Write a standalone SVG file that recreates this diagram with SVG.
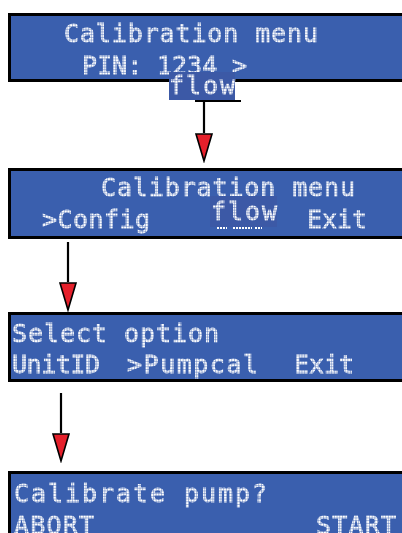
<svg xmlns="http://www.w3.org/2000/svg" width="402" height="533" viewBox="0 0 402 533">
  <style>
    .lcd { fill: #3a5fae; stroke: #000; stroke-width: 3; }
    .tag { fill: #3c59a6; }
    .txt { fill: #fff; stroke: #fff; stroke-width: 0.8; font-family: "DejaVu Sans Mono", "Liberation Mono", monospace; font-size: 25px; }
    .link { stroke: #000; stroke-width: 2.2; fill: none; }
    .dash { stroke: #fff; stroke-width: 2; stroke-dasharray: 2 1; }
  </style>
  <defs>
    <marker id="head" viewBox="0 0 30 18" refX="0" refY="9" markerWidth="30" markerHeight="18" markerUnits="userSpaceOnUse" orient="auto">
      <path d="M1,1 L28,9 L1,17 Z" fill="#e5202b" stroke="#000" stroke-width="1.6" stroke-linejoin="miter"/>
    </marker>
    <!-- pixel grid of the LCD character cells -->
    <pattern id="pixels" width="2.7" height="2.7" patternUnits="userSpaceOnUse">
      <rect width="2.3" height="2.3" fill="#fff"/>
    </pattern>
    <mask id="lcd-dots" maskUnits="userSpaceOnUse" x="0" y="0" width="402" height="533">
      <rect width="402" height="533" fill="url(#pixels)"/>
    </mask>
  </defs>

  <!-- screen 1: PIN entry -->
  <g id="screen-pin">
    <rect class="lcd" x="9.5" y="14.5" width="394" height="66"/>
    <g mask="url(#lcd-dots)">
      <text class="txt" x="64" y="42" textLength="254" lengthAdjust="spacing">Calibration menu</text>
      <text class="txt" y="74"><tspan x="82">PIN:</tspan><tspan x="157">1234</tspan><tspan x="232">&gt;</tspan></text>
    </g>
  </g>

  <!-- "flow" tag under the PIN line -->
  <g id="tag-flow-1">
    <rect class="tag" x="169" y="72" width="66" height="28"/>
    <text class="txt" x="169" y="94" textLength="66" lengthAdjust="spacing" mask="url(#lcd-dots)">flow</text>
  </g>

  <!-- screen 2: calibration menu -->
  <g id="screen-menu">
    <rect class="lcd" x="9.5" y="169.5" width="394" height="68"/>
    <g mask="url(#lcd-dots)">
      <text class="txt" x="101" y="196" textLength="254" lengthAdjust="spacing">Calibration menu</text>
      <text class="txt" x="42" y="228" textLength="108" lengthAdjust="spacing">&gt;Config</text>
      <text class="txt" x="307" y="228" textLength="60" lengthAdjust="spacing">Exit</text>
    </g>
    <line class="dash" x1="217" y1="228" x2="227" y2="228"/>
    <line class="dash" x1="233" y1="228" x2="252" y2="228"/>
    <line class="dash" x1="255" y1="228" x2="262" y2="228"/>
  </g>

  <!-- "flow" tag inside the menu -->
  <g id="tag-flow-2">
    <rect class="tag" x="210" y="196" width="67" height="31"/>
    <text class="txt" x="211" y="220" textLength="66" lengthAdjust="spacing" mask="url(#lcd-dots)">flow</text>
  </g>

  <!-- screen 3: option select -->
  <g id="screen-select">
    <rect class="lcd" x="9.5" y="313.5" width="394" height="67"/>
    <g mask="url(#lcd-dots)">
      <text class="txt" x="12" y="342" textLength="207" lengthAdjust="spacing">Select option</text>
      <text class="txt" x="12" y="373" textLength="88" lengthAdjust="spacing">UnitID</text>
      <text class="txt" x="127" y="373" textLength="131" lengthAdjust="spacing">&gt;Pumpcal</text>
      <text class="txt" x="294" y="373" textLength="60" lengthAdjust="spacing">Exit</text>
    </g>
  </g>

  <!-- screen 4: pump calibration prompt -->
  <g id="screen-pump">
    <rect class="lcd" x="9.5" y="472.5" width="394" height="80"/>
    <g mask="url(#lcd-dots)">
      <text class="txt" x="14" y="502" textLength="253" lengthAdjust="spacing">Calibrate pump?</text>
      <text class="txt" x="14" y="534" textLength="80" lengthAdjust="spacing">ABORT</text>
      <text class="txt" x="316" y="534" textLength="80" lengthAdjust="spacing">START</text>
    </g>
  </g>

  <!-- connectors -->
  <g id="connectors">
    <line class="link" x1="195" y1="101" x2="241" y2="101"/>
    <line class="link" x1="204" y1="101" x2="204" y2="133" marker-end="url(#head)"/>
    <line class="link" x1="68" y1="242" x2="68" y2="282" marker-end="url(#head)"/>
    <line class="link" x1="61" y1="393" x2="61" y2="433" marker-end="url(#head)"/>
  </g>
</svg>
